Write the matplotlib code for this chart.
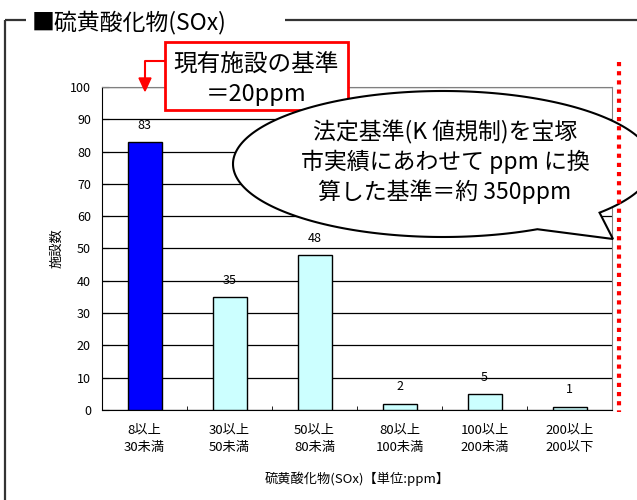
import numpy as np
import matplotlib
matplotlib.use('Agg')
import matplotlib.pyplot as plt
from matplotlib.patches import Rectangle, Polygon

plt.rcParams['font.family'] = ['Noto Sans CJK JP', 'DejaVu Sans']

# 硫黄酸化物濃度別の施設数
categories = ['8以上\n30未満', '30以上\n50未満', '50以上\n80未満',
              '80以上\n100未満', '100以上\n200未満', '200以上\n200以下']
counts = [83, 35, 48, 2, 5, 1]
bar_colors = ['#0000FF', '#CCFFFF', '#CCFFFF', '#CCFFFF', '#CCFFFF', '#CCFFFF']
yticks = list(range(0, 101, 10))

fig = plt.figure(figsize=(6.37, 5.0), dpi=100)
ax = fig.add_axes([102/637, 90/500, 510/637, 323/500])

x = np.arange(len(categories))
ax.bar(x, counts, width=0.4, color=bar_colors, edgecolor='black', linewidth=1, zorder=3)
for xi, v in zip(x, counts):
    ax.text(xi, v + 3.2, str(v), ha='center', va='bottom', fontsize=9)

ax.set_xlim(-0.5, len(categories) - 0.5)
ax.set_ylim(0, 100)
ax.set_yticks(yticks)
ax.tick_params(axis='y', direction='in', length=5, labelsize=9, pad=8)
ax.set_xticks(x)
ax.set_xticklabels(categories, fontsize=9.5, linespacing=1.45)
ax.tick_params(axis='x', length=0, pad=10)
ax.set_xticks(np.arange(0.5, len(categories) - 1, 1), minor=True)
ax.tick_params(axis='x', which='minor', direction='in', length=3)
ax.grid(axis='y', color='black', linewidth=0.9, zorder=0)
ax.set_axisbelow(True)
for side in ['top', 'right']:
    ax.spines[side].set_color('#808080')
for side in ['left', 'bottom']:
    ax.spines[side].set_color('black')
ax.set_xlabel('硫黄酸化物(SOx)【単位:ppm】', fontsize=9.5, labelpad=12)
ax.set_ylabel('施設数', fontsize=9.5, labelpad=5)

# 枠・吹き出し・注記（ピクセル座標）
ov = fig.add_axes([0, 0, 1, 1], zorder=5)
ov.set_xlim(0, 637)
ov.set_ylim(500, 0)
ov.axis('off')
ov.patch.set_alpha(0)

frame_kw = dict(color='#333333', linewidth=1.6, solid_capstyle='butt')
ov.plot([5, 26], [20, 20], **frame_kw)
ov.plot([5, 5], [20, 500], **frame_kw)
ov.plot([285, 637], [20, 20], **frame_kw)
ov.text(32, 22, '■硫黄酸化物(SOx)', fontsize=16.5, va='center', ha='left')

# 現有施設の基準
ov.add_patch(Rectangle((165, 42), 183, 68, facecolor='white', edgecolor='#FF0000', linewidth=2))
ov.text(256, 65, '現有施設の基準', fontsize=17, ha='center', va='center')
ov.text(256, 95, '＝20ppm', fontsize=17, ha='center', va='center')
ov.plot([165, 145, 145], [61, 61, 80], color='#FF0000', linewidth=1.5)
ov.add_patch(Polygon([(139, 78), (151, 78), (145, 91)], closed=True, color='#FF0000'))

# 吹き出し
cx, cy, a, b = 443, 164, 210, 73
t = np.radians(np.linspace(63.3, 401.8, 300))
pts = np.column_stack([cx + a * np.cos(t), cy + b * np.sin(t)])
pts = np.vstack([pts, [[613, 239]]])
ov.add_patch(Polygon(pts, closed=True, facecolor='white', edgecolor='black', linewidth=1.5))
bubble_lines = ['法定基準(K 値規制)を宝塚', '市実績にあわせて ppm に換', '算した基準＝約 350ppm']
for yy, s in zip([132, 162, 192], bubble_lines):
    ov.text(445, yy, s, fontsize=16.5, ha='center', va='center')

# 基準値の位置
ov.plot([619, 619], [62, 412], color='#FF0000', linewidth=3,
        linestyle=(0, (1, 1.2)), dash_capstyle='butt')

fig.savefig('out.png', dpi=100)
